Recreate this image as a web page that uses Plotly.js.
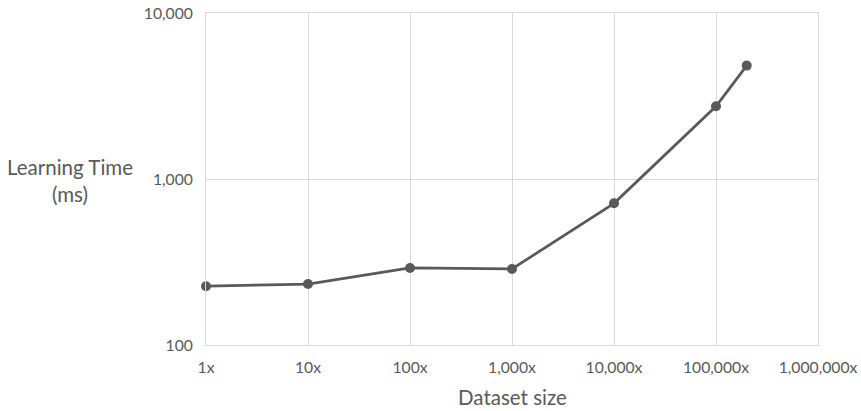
<!DOCTYPE html>
<html>
<head>
<meta charset="utf-8">
<script src="https://cdn.plot.ly/plotly-3.0.1.min.js"></script>
<style>html,body{margin:0;padding:0;background:#fff;}#chart{width:861px;height:411px;}</style>
</head>
<body>
<div id="chart"></div>
<script>
const datasetSize = [1, 10, 100, 1000, 10000, 100000, 200000];
const learningTimeMs = [226, 233, 291, 287, 714, 2740, 4820];
const xTickVals = [1, 10, 100, 1000, 10000, 100000, 1000000];
const xTickText = ["1x", "10x", "100x", "1,000x", "10,000x", "100,000x", "1,000,000x"];
const yTickVals = [100, 1000, 10000];
const yTickText = ["100", "1,000", "10,000"];

const font = "Lato, 'Open Sans', sans-serif";
const grey = "#595959";
const gridC = "#d9d9d9";

Plotly.newPlot("chart", [{
  x: datasetSize, y: learningTimeMs,
  type: "scatter", mode: "lines+markers",
  line: {color: grey, width: 2.75},
  marker: {color: grey, size: 10},
  cliponaxis: false, hoverinfo: "none"
}], {
  width: 861, height: 411,
  margin: {l: 206, r: 43, t: 13, b: 66},
  paper_bgcolor: "#fff", plot_bgcolor: "#fff",
  showlegend: false,
  font: {family: font, color: grey, size: 15.7},
  xaxis: {
    type: "log", range: [0, 6],
    tickvals: xTickVals, ticktext: xTickText,
    showgrid: true, gridcolor: gridC, gridwidth: 1,
    showline: true, linecolor: gridC, linewidth: 1, mirror: true,
    zeroline: false, ticks: "outside", ticklen: 8, tickcolor: "rgba(0,0,0,0)",
    tickfont: {family: font, size: 15.7, color: grey}
  },
  yaxis: {
    type: "log", range: [2, 4],
    tickvals: yTickVals, ticktext: yTickText,
    showgrid: true, gridcolor: gridC, gridwidth: 1,
    showline: true, linecolor: gridC, linewidth: 1, mirror: true,
    zeroline: false, ticks: "outside", ticklen: 9, tickcolor: "rgba(0,0,0,0)",
    tickfont: {family: font, size: 15.7, color: grey}
  },
  annotations: [{
    text: "Learning Time<br>(ms)", xref: "paper", yref: "paper",
    x: -0.2222, y: 0.4955, xanchor: "center", yanchor: "middle",
    showarrow: false, align: "center",
    font: {family: font, size: 20.5, color: grey}
  }, {
    text: "Dataset size", xref: "paper", yref: "paper",
    x: 0.5, y: -0.1566, xanchor: "center", yanchor: "middle",
    showarrow: false,
    font: {family: font, size: 20.5, color: grey}
  }]
}, {displayModeBar: false, staticPlot: true});
</script>
</body>
</html>
